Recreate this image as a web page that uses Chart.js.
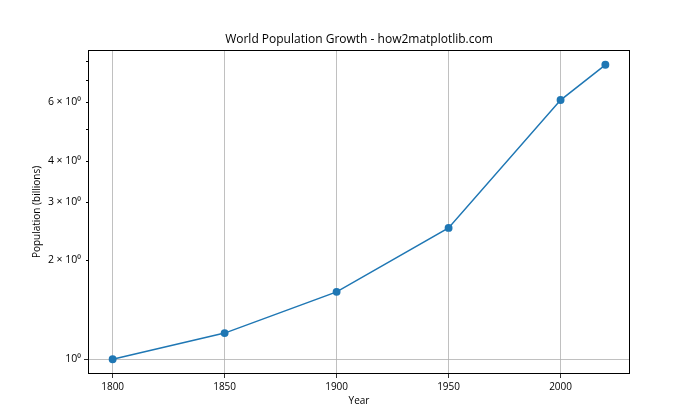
<!DOCTYPE html>
<html lang="en">
<head>
    <meta charset="UTF-8">
    <title>World Population Growth</title>
    <script src="https://cdn.jsdelivr.net/npm/chart.js"></script>
    <style>
        html, body { margin: 0; padding: 0; background: #fff; }
        #wrap { width: 700px; height: 420px; }
    </style>
</head>
<body>
    <div id="wrap"><canvas id="chart" width="700" height="420"></canvas></div>

    <script>
        const years = [1800, 1850, 1900, 1950, 2000, 2020];
        const population = [1.0, 1.2, 1.6, 2.5, 6.1, 7.8];
        const xTicks = [1800, 1850, 1900, 1950, 2000];
        const yTickValues = [1, 2, 3, 4, 5, 6, 7, 8];
        const yTickLabels = ['10\u2070', '2 \u00d7 10\u2070', '3 \u00d7 10\u2070', '4 \u00d7 10\u2070', '', '6 \u00d7 10\u2070', '', ''];
        const chartTitle = 'World Population Growth - how2matplotlib.com';

        const FONT = "'Open Sans', 'Noto Sans', sans-serif";
        const isMajor = v => v === 1;

        // frame, title over the axes, short minor ticks like matplotlib
        const framePlugin = {
            id: 'frame',
            afterDraw(chart) {
                const { ctx, chartArea: a } = chart;
                const y = chart.scales.y;
                ctx.save();
                ctx.strokeStyle = '#000';
                ctx.lineWidth = 1;
                ctx.strokeRect(a.left + 0.5, a.top + 0.5, a.right - a.left - 1, a.bottom - a.top - 1);
                yTickValues.forEach(v => {
                    if (isMajor(v)) return;
                    const py = Math.round(y.getPixelForValue(v)) + 0.5;
                    ctx.beginPath();
                    ctx.moveTo(a.left - 2, py);
                    ctx.lineTo(a.left, py);
                    ctx.stroke();
                });
                ctx.fillStyle = '#000';
                ctx.font = '12px ' + FONT;
                ctx.textAlign = 'center';
                ctx.textBaseline = 'middle';
                ctx.fillText(chartTitle, (a.left + a.right) / 2, 40);
                ctx.restore();
            }
        };

        new Chart(document.getElementById('chart'), {
            type: 'scatter',
            data: {
                datasets: [{
                    data: years.map((yr, i) => ({ x: yr, y: population[i] })),
                    showLine: true,
                    borderColor: '#1f77b4',
                    backgroundColor: '#1f77b4',
                    borderWidth: 1.5,
                    pointRadius: 3.2,
                    pointHoverRadius: 3.2
                }]
            },
            options: {
                responsive: false,
                animation: false,
                layout: { padding: { top: 50, right: 70, bottom: 0, left: 0 } },
                plugins: {
                    legend: { display: false },
                    tooltip: { enabled: false },
                    title: { display: false }
                },
                scales: {
                    x: {
                        type: 'linear',
                        min: 1789,
                        max: 2031,
                        afterFit: s => { s.height = 46; },
                        afterBuildTicks: s => { s.ticks = xTicks.map(v => ({ value: v })); },
                        border: { display: false },
                        grid: { color: '#b0b0b0', lineWidth: 0.8, tickColor: '#000', tickLength: 4 },
                        ticks: { color: '#000', padding: 3, font: { family: FONT, size: 10 }, callback: v => String(v) },
                        title: { display: true, text: 'Year', color: '#000', font: { family: FONT, size: 10 }, padding: { top: 0, bottom: 13 } }
                    },
                    y: {
                        type: 'logarithmic',
                        min: 0.902,
                        max: 8.65,
                        afterFit: s => { s.width = 88; },
                        afterBuildTicks: s => { s.ticks = yTickValues.map(v => ({ value: v, major: isMajor(v) })); },
                        border: { display: false },
                        grid: {
                            color: ctx => (ctx.tick && isMajor(ctx.tick.value)) ? '#b0b0b0' : 'rgba(0,0,0,0)',
                            lineWidth: 0.8,
                            tickColor: ctx => (ctx.tick && isMajor(ctx.tick.value)) ? '#000' : 'rgba(0,0,0,0)',
                            tickLength: 4
                        },
                        ticks: {
                            color: '#000',
                            padding: 3,
                            autoSkip: false,
                            font: { family: FONT, size: 10.5 },
                            callback: (v) => {
                                const i = yTickValues.indexOf(v);
                                return i >= 0 ? yTickLabels[i] : '';
                            }
                        },
                        title: { display: true, text: 'Population (billions)', color: '#000', font: { family: FONT, size: 10 }, padding: { top: 31, bottom: 0 } }
                    }
                }
            },
            plugins: [framePlugin]
        });
    </script>
</body>
</html>
